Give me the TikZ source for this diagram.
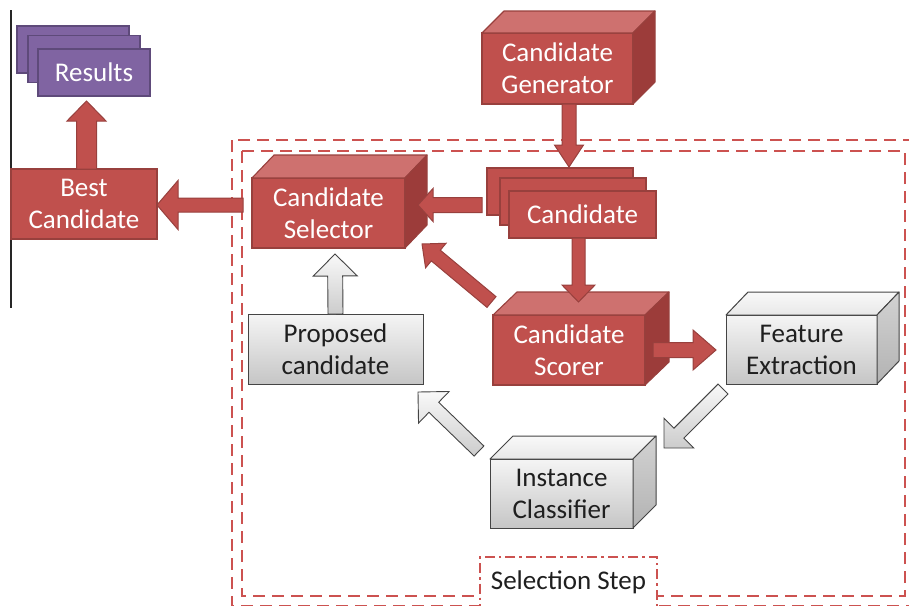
\documentclass[tikz,border=0pt]{standalone}
\usepackage{fontspec}
\setmainfont{Carlito}
\usetikzlibrary{calc}
\definecolor{redfill}{HTML}{C0504D}
\definecolor{redline}{HTML}{98403D}
\definecolor{redtopc}{HTML}{CE716F}
\definecolor{redsidec}{HTML}{9C3C3A}
\definecolor{purfill}{HTML}{8064A2}
\definecolor{purline}{HTML}{5E4A7A}
\definecolor{grayline}{HTML}{444444}
\definecolor{dashred}{HTML}{CC5250}
\newcommand\cuboid[8]{%
  \node[#1front, minimum width=#4, minimum height=#5] (#2) at (#3) {#8};
  \path[#1top] (#2.north west) -- ++(#6,#7) -- ($(#2.north east)+(#6,#7)$) -- (#2.north east) -- cycle;
  \path[#1side] (#2.north east) -- ++(#6,#7) -- ($(#2.south east)+(#6,#7)$) -- (#2.south east) -- cycle;
}
\newcommand\blockarrow[6][]{%
  \coordinate (bah) at ($(#3)!#6!(#2)$);
  \path[#1] ($(#2)!#4!90:(#3)$) -- ($(bah)!#4!90:(#3)$) -- ($(bah)!#5!90:(#3)$) -- (#3)
    -- ($(bah)!#5!-90:(#3)$) -- ($(bah)!#4!-90:(#3)$) -- ($(#2)!#4!-90:(#3)$) -- cycle;
}
\tikzset{
  lbl/.style={font=\fontsize{27pt}{32pt}\selectfont, align=center, inner sep=0pt, outer sep=0pt},
  redfront/.style={lbl, draw=redline, line width=1.1pt, fill=redfill, text=white},
  redtop/.style={draw=redline, line width=1.1pt, fill=redtopc, line join=round},
  redside/.style={draw=redline, line width=1.1pt, fill=redsidec, line join=round},
  grayfront/.style={lbl, draw=grayline, line width=1pt, top color=gray!8, bottom color=gray!45, text=black!88},
  graytop/.style={draw=grayline, line width=1pt, top color=gray!5, bottom color=gray!18, line join=round},
  grayside/.style={draw=grayline, line width=1pt, top color=gray!35, bottom color=gray!60, line join=round},
  purbox/.style={lbl, draw=purline, line width=1.1pt, fill=purfill, text=white},
  redarrow/.style={draw=redline, line width=1pt, fill=redfill, line join=miter},
  grayarrow/.style={draw=grayline, line width=0.9pt, top color=gray!5, bottom color=gray!40, line join=miter},
  dashframe/.style={draw=dashred, line width=2.8pt, dash pattern=on 12pt off 7pt},
  stepbox/.style={lbl, draw=dashred, line width=2.4pt, fill=white, text=black!88,
    dash pattern=on 10pt off 4pt on 2.5pt off 4pt},
}
\begin{document}
\begin{tikzpicture}[x=1pt, y=-1pt]
\useasboundingbox (0,0) rectangle (909,605);
\clip (0,0) rectangle (909,605);
% frames
\draw[dashframe] (232,140) rectangle (915,606);
\draw[dashframe] (242,151) rectangle (905,596);
\node[stepbox, minimum width=177pt, minimum height=50pt] (step) at (568.5,582) {Selection Step};
% left line
\coordinate (lineT) at (11,10);
\coordinate (lineB) at (11,308);
\draw[black!85, line width=1.2pt] (lineT) -- (lineB);
% results stack
\node[purbox, minimum width=112pt, minimum height=47pt] (res3) at (73,49.5) {};
\node[purbox, minimum width=112pt, minimum height=47pt] (res2) at (84,59) {};
\node[purbox, minimum width=112pt, minimum height=47pt] (res) at (94,72.5) {Results};
% best candidate
\node[redfront, minimum width=146pt, minimum height=70pt] (best) at (84,204) {Best\\Candidate};
% cuboids
\cuboid{red}{gen}{557.5,68.5}{151pt}{71pt}{22}{-22}{Candidate\\Generator}
\cuboid{red}{sel}{328.5,213}{153pt}{70pt}{22}{-23}{Candidate\\Selector}
\cuboid{red}{scor}{569,350}{152pt}{70pt}{24}{-23}{Candidate\\Scorer}
\cuboid{gray}{feat}{801.5,349.5}{151pt}{69pt}{22}{-23}{Feature\\Extraction}
\cuboid{gray}{inst}{561.5,493.5}{143pt}{69pt}{23}{-23}{Instance\\Classifier}
\node[grayfront, minimum width=175pt, minimum height=70pt] (prop) at (335.5,349) {Proposed\\candidate};
% candidate stack
\node[redfront, minimum width=146pt, minimum height=47pt] (cs3) at (560,191.5) {};
\node[redfront, minimum width=146pt, minimum height=47pt] (cs2) at (573,201.5) {};
\node[redfront, minimum width=147pt, minimum height=47pt] (cs) at (582.5,214.5) {Candidate};
% arrow end points
\coordinate (t1) at ($(best.north)+(2.5,0)$);
\coordinate (h1) at ($(res.south)+(-7.5,5)$);
\coordinate (t2) at ($(sel.west)+(-9,-8)$);
\coordinate (h2) at ($(best.east)+(0,1)$);
\coordinate (t3) at ($(cs3.west)+(-5,13.5)$);
\coordinate (h3) at ($(sel.east)+(13,-8)$);
\coordinate (t4) at ($(gen.south)+(11.5,0)$);
\coordinate (h4) at ($(cs3.north)+(9,-1)$);
\coordinate (t5) at ($(cs.south)+(-4,0)$);
\coordinate (h5) at ($(scor.north)+(9.5,-13)$);
\coordinate (t6) at ($(scor.north west)+(-1.5,-13)$);
\coordinate (h6) at ($(sel.south east)+(17,-4)$);
\coordinate (t7) at ($(scor.east)+(8,0)$);
\coordinate (h7) at ($(feat.west)+(-10,0.5)$);
\coordinate (t8) at ($(feat.south west)+(-3,5)$);
\coordinate (h8) at ($(inst.north east)+(31,-11)$);
\coordinate (t9) at ($(inst.north west)+(-11,-8)$);
\coordinate (h9) at ($(prop.south east)+(-5,8)$);
\coordinate (t10) at (prop.north);
\coordinate (h10) at ($(sel.south)+(6.5,6)$);
% red arrows
\blockarrow[redarrow]{t1}{h1}{10pt}{19.5pt}{20pt}
\blockarrow[redarrow]{t2}{h2}{7pt}{24.5pt}{21pt}
\blockarrow[redarrow]{t3}{h3}{7.5pt}{16.5pt}{15pt}
\blockarrow[redarrow]{t4}{h4}{7pt}{14.5pt}{22pt}
\blockarrow[redarrow]{t5}{h5}{6.5pt}{16.5pt}{17pt}
\blockarrow[redarrow]{t6}{h6}{7pt}{16pt}{18pt}
\blockarrow[redarrow]{t7}{h7}{7.5pt}{20pt}{23pt}
% gray arrows
\blockarrow[grayarrow]{t8}{h8}{7pt}{21pt}{21pt}
\blockarrow[grayarrow]{t9}{h9}{7pt}{22pt}{22pt}
\blockarrow[grayarrow]{t10}{h10}{7.5pt}{22pt}{22pt}
\end{tikzpicture}
\end{document}
